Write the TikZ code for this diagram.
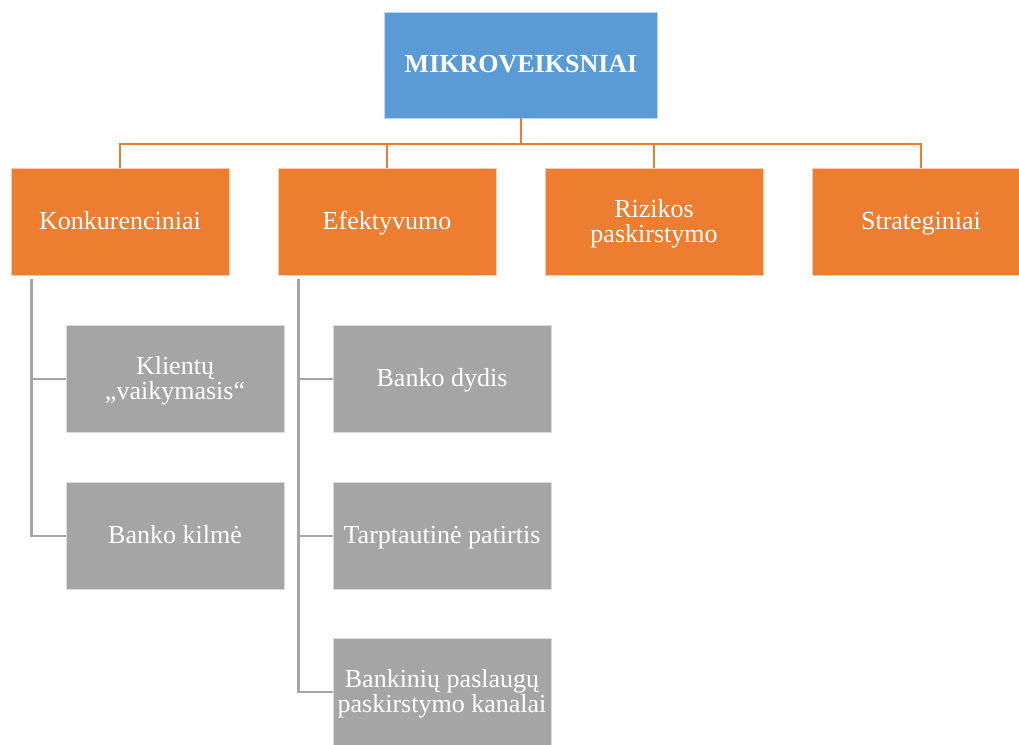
\documentclass[tikz,border=0pt]{standalone}
\usepackage{fontspec}
\setmainfont{Liberation Serif}
\usetikzlibrary{calc}
\definecolor{cblue}{HTML}{5B9BD5}
\definecolor{corange}{HTML}{ED7D31}
\definecolor{cgray}{HTML}{A5A5A5}
\tikzset{
  basebox/.style={rectangle, minimum width=218pt, minimum height=107pt, inner sep=0pt,
    text=white, align=center, font=\fontsize{26}{25.3}\selectfont, draw=white!60!#1, fill=#1, line width=0.8pt,
    text height=15.5pt, text depth=0pt},
  twoline/.style={text height=40.8pt},
  topbox/.style={basebox=cblue, minimum width=273pt, minimum height=106pt, font=\fontsize{26}{25.3}\selectfont\bfseries},
  orbox/.style={basebox=corange},
  grbox/.style={basebox=cgray},
  orline/.style={draw=corange, line width=2.6pt},
  grline/.style={draw=cgray, line width=2.8pt}
}
\begin{document}
\begin{tikzpicture}[x=1pt,y=-1pt]
\useasboundingbox (0,0) rectangle (1019,744);
\clip (0,0) rectangle (1019,744);
\node[topbox] (top) at (521,65) {MIKROVEIKSNIAI};
\node[orbox] (o1) at (120,222) {Konkurenciniai};
\node[orbox] (o2) at (387,222) {Efektyvumo};
\node[orbox, twoline] (o3) at (654,222) {Rizikos\\paskirstymo};
\node[orbox] (o4) at (921,222) {Strateginiai};
\node[grbox, twoline] (g1) at (175,379) {Klientų\\„vaikymasis“};
\node[grbox] (g2) at (175,536) {Banko kilmė};
\node[grbox] (g3) at (442,379) {Banko dydis};
\node[grbox] (g4) at (442,536) {Tarptautinė patirtis};
\node[grbox, twoline] (g5) at (442,692) {Bankinių paslaugų\\paskirstymo kanalai};
\coordinate (bus) at (521,144);
\draw[orline] (top.south) -- (bus);
\foreach \n in {o1,o2,o3,o4} \draw[orline] (\n.north) |- (bus);
\coordinate (s1) at ($(o1.south west)+(21,3)$);
\coordinate (s2) at ($(o2.south west)+(21,3)$);
\draw[grline] (s1) |- (g2.west);
\draw[grline] (g1.west) -- (g1.west -| s1);
\draw[grline] (s2) |- (g5.west);
\draw[grline] (g3.west) -- (g3.west -| s2);
\draw[grline] (g4.west) -- (g4.west -| s2);
\end{tikzpicture}
\end{document}
